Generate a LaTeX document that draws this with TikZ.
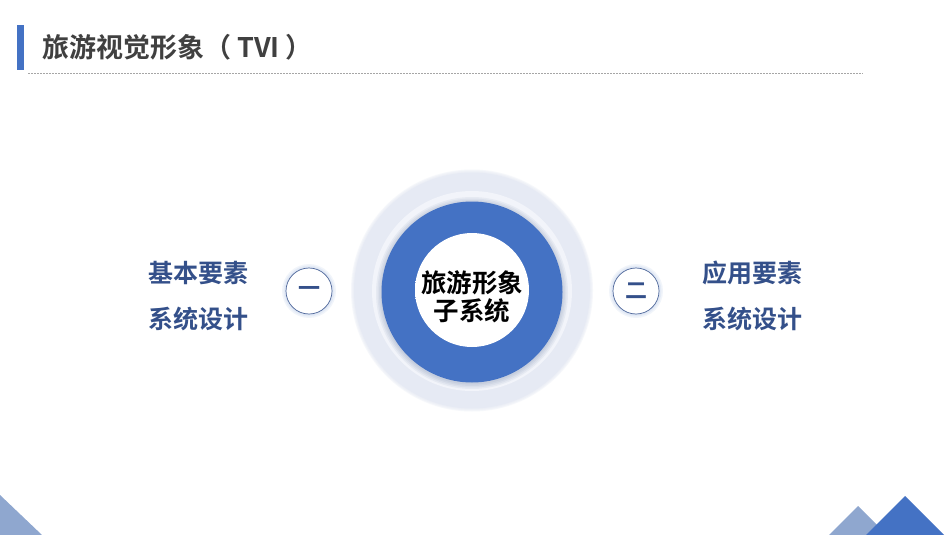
\documentclass[tikz,border=0pt]{standalone}
\usepackage{fontspec}
\newfontfamily\cjk{Noto Sans CJK SC Bold}
\definecolor{mainblue}{HTML}{4472C4}
\definecolor{paleblue}{HTML}{8FA7CF}
\definecolor{ringpale}{HTML}{E6EAF4}
\definecolor{ringlight}{HTML}{F2F4FA}
\definecolor{textblue}{HTML}{34508A}
\definecolor{titlegray}{HTML}{404040}
\definecolor{dotgray}{HTML}{A6A6A6}
\definecolor{glowgray}{HTML}{D5DBEA}
\definecolor{shadowblue}{HTML}{2F4A80}
\pgfdeclareradialshading{innerglow}{\pgfpoint{0bp}{0bp}}{color(0bp)=(white); color(40bp)=(white); color(50bp)=(glowgray); color(100bp)=(glowgray)}
\tikzset{
  sidetext/.style={font=\cjk\fontsize{25}{46}\selectfont, text=textblue, align=center},
  numcircle/.style={circle, minimum size=46pt, inner sep=0pt, draw=textblue!85, line width=0.7pt, fill=white,
    font=\cjk\fontsize{22}{22}\selectfont, text=textblue},
  centertext/.style={font=\cjk\fontsize{25.5}{28}\selectfont, text=black, align=center}
}
\begin{document}
\begin{tikzpicture}[x=1pt,y=-1pt]
\useasboundingbox[fill=white] (0,0) rectangle (950,535);
% header
\fill[mainblue] (17,25) rectangle (24,70);
\node[anchor=west, font=\cjk\fontsize{27}{27}\selectfont, text=titlegray, inner sep=0pt] (title) at (42,47) {旅游视觉形象（ TVI ）};
\draw[dotgray, line width=0.8pt, dash pattern=on 1.5pt off 1.5pt] (28,73) -- (863,73);
% central rings
\foreach \r in {119,120,121} {\fill[ringpale, opacity=0.35] (472,290.5) circle (\r);}
\fill[ringpale] (472,290.5) circle (118);
\fill[ringlight] (472,291) circle (100);
\foreach \r in {91.5,93,94.5,96} {\fill[shadowblue, opacity=0.06] (472,293) circle (\r);}
\fill[mainblue] (472,292) circle (90.5);
\shade[shading=innerglow] (472,290) circle (57);
\node[centertext] (center) at (472,297) {旅游形象\\子系统};
% left
\node[sidetext] (lefttext) at (198,296) {基本要素\\系统设计};
\foreach \r in {24,25.5,27} {\fill[mainblue, opacity=0.07] (309,291) circle (\r);}
\node[numcircle] (one) at (309,291) {一};
% right
\foreach \r in {24,25.5,27} {\fill[mainblue, opacity=0.07] (636,291) circle (\r);}
\node[numcircle] (two) at (636,291) {二};
\node[sidetext] (righttext) at (752,296) {应用要素\\系统设计};
% decorations bottom
\fill[paleblue] (0,495) -- (42,535) -- (0,535) -- cycle;
\fill[paleblue] (858,506) -- (887,535) -- (829,535) -- cycle;
\fill[mainblue] (905,496) -- (944,535) -- (866,535) -- cycle;
\end{tikzpicture}
\end{document}
